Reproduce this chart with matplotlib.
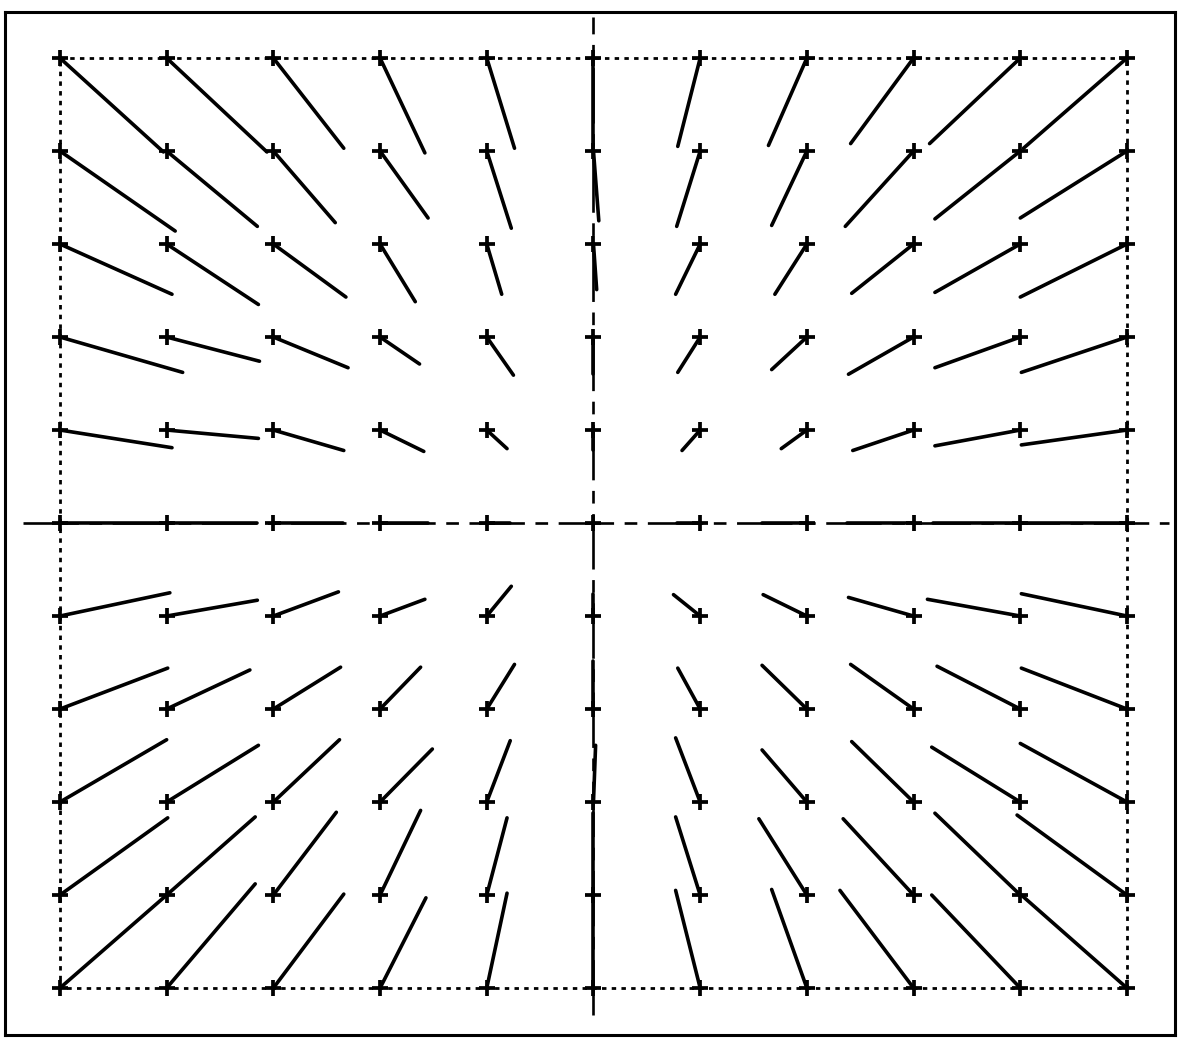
import numpy as np
import matplotlib
matplotlib.use("Agg")
import matplotlib.pyplot as plt

# grid positions (columns left->right, rows top->bottom)
X_POS = [-5, -4, -3, -2, -1, 0, 1, 2, 3, 4, 5]
Y_POS = [5, 4, 3, 2, 1, 0, -1, -2, -3, -4, -5]

# vector components, one list per row (top -> bottom)
U_ROWS = [
    [0.97, 0.94, 0.66, 0.42, 0.26, 0.00, -0.21, -0.36, -0.59, -0.85, -0.97],
    [1.08, 0.85, 0.58, 0.45, 0.23, 0.05, -0.22, -0.33, -0.64, -0.80, -1.00],
    [1.05, 0.86, 0.68, 0.33, 0.14, 0.03, -0.23, -0.30, -0.58, -0.80, -1.00],
    [1.15, 0.87, 0.70, 0.37, 0.25, 0.00, -0.21, -0.33, -0.61, -0.80, -0.99],
    [1.05, 0.86, 0.66, 0.41, 0.19, 0.00, -0.17, -0.24, -0.57, -0.80, -0.99],
    [1.05, 0.85, 0.65, 0.45, 0.22, 0.00, -0.22, -0.42, -0.62, -0.82, -1.00],
    [1.03, 0.85, 0.61, 0.42, 0.23, 0.00, -0.25, -0.41, -0.61, -0.87, -0.99],
    [1.01, 0.78, 0.63, 0.38, 0.26, 0.00, -0.21, -0.42, -0.59, -0.78, -0.99],
    [1.00, 0.86, 0.62, 0.49, 0.22, 0.02, -0.23, -0.42, -0.58, -0.83, -1.00],
    [1.01, 0.83, 0.59, 0.38, 0.19, 0.00, -0.23, -0.45, -0.66, -0.80, -1.03],
    [1.00, 0.83, 0.66, 0.43, 0.19, 0.00, -0.23, -0.33, -0.69, -0.83, -0.99],
]
V_ROWS = [
    [-1.01, -1.01, -0.97, -1.02, -0.97, -0.99, -0.95, -0.94, -0.92, -0.92, -0.97],
    [-0.86, -0.81, -0.77, -0.72, -0.83, -0.75, -0.81, -0.80, -0.81, -0.73, -0.72],
    [-0.54, -0.65, -0.57, -0.62, -0.54, -0.49, -0.54, -0.54, -0.53, -0.52, -0.57],
    [-0.38, -0.26, -0.33, -0.29, -0.41, -0.40, -0.38, -0.35, -0.40, -0.33, -0.38],
    [-0.19, -0.09, -0.22, -0.23, -0.20, -0.22, -0.22, -0.20, -0.22, -0.17, -0.16],
    [0.00, 0.00, 0.00, 0.00, 0.00, 0.00, 0.00, 0.00, 0.00, 0.00, 0.00],
    [0.25, 0.17, 0.26, 0.18, 0.32, 0.24, 0.23, 0.23, 0.20, 0.18, 0.24],
    [0.44, 0.42, 0.45, 0.45, 0.48, 0.52, 0.44, 0.47, 0.48, 0.46, 0.44],
    [0.67, 0.61, 0.67, 0.57, 0.66, 0.61, 0.69, 0.56, 0.65, 0.59, 0.63],
    [0.83, 0.84, 0.89, 0.91, 0.83, 0.88, 0.84, 0.82, 0.82, 0.88, 0.86],
    [1.00, 1.12, 1.01, 0.97, 1.02, 0.99, 1.05, 1.06, 1.05, 1.00, 1.00],
]

INK = "black"

fig = plt.figure(figsize=(11.78, 10.38), dpi=100)
ax = fig.add_axes([5 / 1178, 1 - 1035 / 1038, 1170 / 1178, 1023 / 1038])
ax.set_xlim(-5.515, 5.45)
ax.set_ylim(-5.505, 5.495)
ax.set_xticks([])
ax.set_yticks([])
for spine in ax.spines.values():
    spine.set_linewidth(2.2)
    spine.set_color(INK)

# dotted boundary of the grid
ax.plot([X_POS[0], X_POS[-1], X_POS[-1], X_POS[0], X_POS[0]],
        [Y_POS[0], Y_POS[0], Y_POS[-1], Y_POS[-1], Y_POS[0]],
        color=INK, linewidth=2.0, linestyle=(0, (1.6, 1.9)))

# dash-dot centre lines
ax.axvline(0, ymin=0.02, ymax=0.995, color=INK, linewidth=1.9,
           linestyle=(0, (21, 4, 4.8, 4)))
ax.axhline(0, xmin=0.015, xmax=0.995, color=INK, linewidth=1.9,
           linestyle=(0, (21, 4, 4.8, 4)))

# vectors: segment from each grid point
for j, y in enumerate(Y_POS):
    for i, x in enumerate(X_POS):
        u = U_ROWS[j][i]
        v = V_ROWS[j][i]
        ax.plot([x, x + u], [y, y + v], color=INK, linewidth=2.6,
                solid_capstyle="round")

gx, gy = np.meshgrid(X_POS, Y_POS)
ax.plot(gx.ravel(), gy.ravel(), linestyle="none", marker="+",
        markersize=12, markeredgewidth=2.7, color=INK)

fig.savefig("out.png", dpi=100)
plt.close(fig)
